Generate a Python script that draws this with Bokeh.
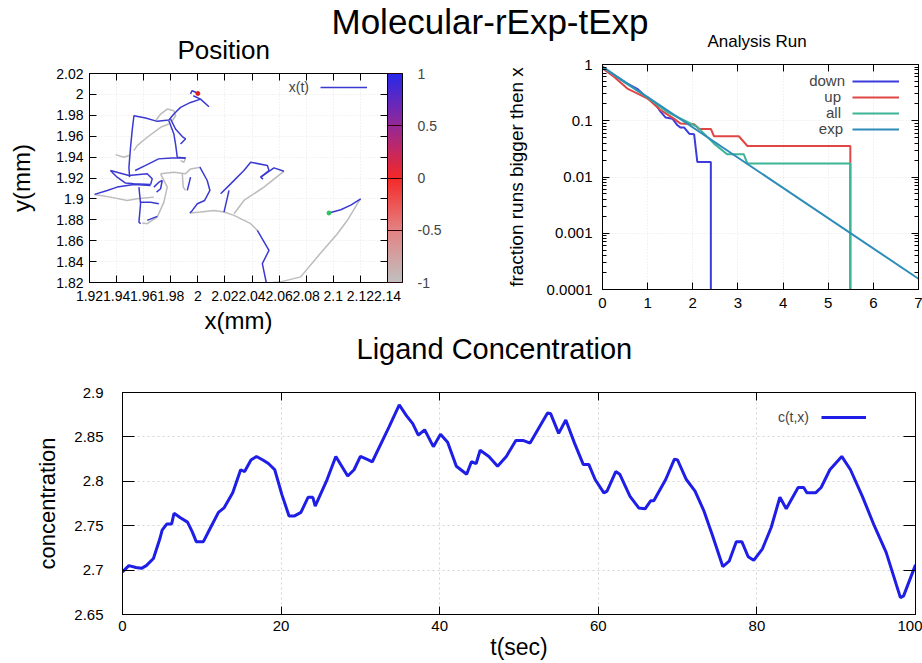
import numpy as np
from bokeh.plotting import figure
from bokeh.layouts import column, row
from bokeh.models import (ColorBar, LinearColorMapper, FixedTicker, CustomJSTickFormatter,
                          LinearAxis, LogAxis, Legend, LegendItem, Range1d)
from bokeh.embed import file_html
from bokeh.resources import INLINE

FONT = "Liberation Sans"

# ------------------------------------------------------------------ data
main_title = "Molecular-rExp-tExp"

# --- Position panel (trajectory pieces, mm)
pos_xticks = [1.92, 1.94, 1.96, 1.98, 2.0, 2.02, 2.04, 2.06, 2.08, 2.1, 2.12, 2.14]
pos_yticks = [1.82, 1.84, 1.86, 1.88, 1.9, 1.92, 1.94, 1.96, 1.98, 2.0, 2.02]
cbar_ticks = [-1, -0.5, 0, 0.5, 1]

traj_blue_x = [
    [1.9946, 1.9956, 1.9976, 2.0000],
    [1.9966, 2.0020, 2.0082],
    [2.0020, 1.9946, 1.9872, 1.9823, 1.9786, 1.9700, 1.9614, 1.9528, 1.9515, 1.9503, 1.9491, 1.9496],
    [1.9799, 1.9835, 1.9885, 1.9909, 1.9872],
    [1.9786, 1.9823, 1.9835, 1.9848, 1.9909],
    [1.9537, 1.9611, 1.9710, 1.9808, 1.9909],
    [1.9355, 1.9491, 1.9626, 1.9663, 1.9651],
    [1.9355, 1.9404, 1.9466, 1.9528, 1.9651],
    [1.9237, 1.9331, 1.9404, 1.9528, 1.9651],
    [1.9565, 1.9577, 1.9565, 1.9577],
    [1.9626, 1.9700],
    [1.9577, 1.9651, 1.9712],
    [1.9675, 1.9712, 1.9737, 1.9725, 1.9695],
    [1.9946, 1.9934, 1.9922],
    [2.0015, 2.0069, 2.0089, 2.0050, 1.9996, 1.9959, 1.9941],
    [2.0168, 2.0242, 2.0340, 2.0390, 2.0513, 2.0525, 2.0464, 2.0481],
    [2.0230, 2.0193],
    [2.0464, 2.0562, 2.0636],
    [2.0439, 2.0525, 2.0476, 2.0505],
    [2.0968, 2.1055, 2.1129, 2.1202],
]
traj_blue_y = [
    [2.0003, 2.0035, 2.0025, 2.0009],
    [1.9987, 1.9955, 1.9882],
    [1.9955, 1.9923, 1.9876, 1.9812, 1.9755, 1.9742, 1.9774, 1.9796, 1.9653, 1.9494, 1.9303, 1.9208],
    [1.9764, 1.9669, 1.9596, 1.9574, 1.9526],
    [1.9748, 1.9621, 1.9526, 1.9399, 1.9392],
    [1.9272, 1.9319, 1.9383, 1.9392, 1.9392],
    [1.9272, 1.9224, 1.9240, 1.9192, 1.9138],
    [1.9272, 1.9208, 1.9151, 1.9144, 1.9138],
    [1.9043, 1.9081, 1.9113, 1.9138, 1.9128],
    [1.9113, 1.8954, 1.8779, 1.8763],
    [1.8795, 1.8833],
    [1.8969, 1.8969, 1.8954],
    [1.9113, 1.9160, 1.9176, 1.9097, 1.9065],
    [1.9208, 1.9144, 1.9081],
    [1.9303, 1.9176, 1.9081, 1.8985, 1.8954, 1.8890, 1.8865],
    [1.9049, 1.9144, 1.9272, 1.9351, 1.9319, 1.9272, 1.9208, 1.9189],
    [1.9081, 1.8874],
    [1.9208, 1.9297, 1.9265],
    [1.8699, 1.8508, 1.8381, 1.8200],
    [1.8865, 1.8896, 1.8941, 1.9001],
]
traj_gray_x = [
    [2.1202, 2.1178, 2.1104, 2.1030, 2.0882, 2.0759, 2.0611, 2.0550],
    [1.9941, 2.0020, 2.0119, 2.0193, 2.0267, 2.0390, 2.0439],
    [2.0636, 2.0488, 2.0340, 2.0267],
    [1.9688, 1.9725, 1.9774, 1.9823, 1.9835, 1.9811],
    [1.9786, 1.9725, 1.9626, 1.9552, 1.9528],
    [1.9237, 1.9355, 1.9478, 1.9552, 1.9675],
    [1.9725, 1.9823, 1.9909, 1.9946, 2.0020],
    [1.9885, 1.9892, 1.9909],
    [1.9589, 1.9626, 1.9700, 1.9749, 1.9774, 1.9725],
    [1.9392, 1.9454, 1.9491],
    [1.9872, 1.9897, 1.9909],
]
traj_gray_y = [
    [1.9001, 1.8954, 1.8795, 1.8667, 1.8445, 1.8254, 1.8206, 1.8200],
    [1.8865, 1.8874, 1.8890, 1.8874, 1.8842, 1.8763, 1.8699],
    [1.9265, 1.9113, 1.8985, 1.8858],
    [1.9748, 1.9812, 1.9860, 1.9844, 1.9796, 1.9748],
    [1.9717, 1.9685, 1.9590, 1.9510, 1.9462],
    [1.9043, 1.9017, 1.8985, 1.9001, 1.9017],
    [1.9240, 1.9256, 1.9240, 1.9287, 1.9303],
    [1.9240, 1.9113, 1.9081],
    [1.8769, 1.8763, 1.8826, 1.8969, 1.9113, 1.9240],
    [1.9424, 1.9399, 1.9415],
    [1.9367, 1.9351, 1.9392],
]
traj_start_x, traj_start_y = [2.0968], [1.8865]
traj_end_x, traj_end_y = [2.0000], [2.0009]

# --- Analysis Run panel
an_xticks = [0, 1, 2, 3, 4, 5, 6, 7]
an_yticks = [0.0001, 0.001, 0.01, 0.1, 1]
an_down_x = [0, 0.25, 0.5, 0.77, 1.0, 1.14, 1.29, 1.40, 1.55, 1.66, 1.73, 1.81, 1.92, 2.03, 2.10, 2.40, 2.40]
an_down_y = [0.92, 0.65, 0.48, 0.37, 0.25, 0.216, 0.144, 0.114, 0.109, 0.083, 0.0755, 0.0755, 0.059, 0.0575, 0.0185, 0.0185, 0.0001]
an_up_x = [0, 0.26, 0.55, 0.70, 1.0, 1.29, 1.58, 1.73, 2.03, 2.14, 2.40, 2.47, 3.02, 3.21, 5.49, 5.49]
an_up_y = [0.85, 0.60, 0.374, 0.326, 0.248, 0.154, 0.109, 0.089, 0.0866, 0.0716, 0.0716, 0.053, 0.053, 0.0356, 0.0356, 0.0001]
an_all_x = [0, 0.3, 0.6, 1.0, 1.43, 1.88, 2.10, 2.47, 2.76, 3.13, 3.21, 5.49, 5.49]
an_all_y = [0.9, 0.62, 0.42, 0.26, 0.144, 0.095, 0.0777, 0.0392, 0.0253, 0.0253, 0.0173, 0.0173, 0.0001]
an_exp_x = [0, 7]
an_exp_y = [0.91, 0.000155]
an_labels = ["down", "up", "all", "exp"]
an_colors = ["#3c3cdc", "#e04646", "#3cb496", "#2e8cb8"]

# --- Ligand concentration panel
conc_xticks = [0, 20, 40, 60, 80, 100]
conc_yticks = [2.65, 2.7, 2.75, 2.8, 2.85, 2.9]
conc_t = [0, 0.8, 1.7, 2.4, 3.0, 3.9, 4.7, 5.0, 5.6, 6.2, 6.5, 7.3, 8.2, 8.8, 9.3, 10.2, 11.0,
          12.1, 12.8, 13.9, 14.9, 15.4, 16.2, 16.9, 17.7, 18.4, 19.2, 20.1, 21.0, 21.7, 22.5,
          23.4, 24.0, 24.3, 25.8, 26.9, 28.4, 29.2, 30.0, 31.0, 31.5, 33.6, 34.9, 35.8, 36.6,
          37.3, 38.1, 39.2, 40.1, 41.0, 42.1, 43.4, 44.0, 44.6, 45.1, 46.2, 47.3, 48.4, 49.6,
          50.5, 51.4, 53.6, 54.0, 55.0, 55.9, 57.0, 58.1, 58.8, 59.6, 60.7, 61.1, 62.2, 62.7,
          64.0, 65.1, 65.9, 66.6, 67.0, 68.5, 69.6, 70.0, 71.1, 72.2, 73.3, 74.4, 75.7, 76.5,
          77.4, 78.1, 78.9, 79.6, 80.7, 81.8, 82.9, 83.7, 85.2, 85.9, 86.3, 87.4, 88.1, 89.2,
          90.7, 91.8, 93.3, 94.8, 96.3, 98.1, 98.5, 100]
conc_c = [2.698, 2.705, 2.703, 2.702, 2.705, 2.713, 2.735, 2.745, 2.752, 2.752, 2.764, 2.759,
          2.754, 2.743, 2.732, 2.732, 2.746, 2.765, 2.770, 2.787, 2.813, 2.811, 2.824, 2.828,
          2.824, 2.820, 2.813, 2.785, 2.761, 2.761, 2.765, 2.782, 2.782, 2.772, 2.802, 2.828,
          2.806, 2.813, 2.828, 2.824, 2.822, 2.861, 2.886, 2.874, 2.865, 2.852, 2.858, 2.839,
          2.853, 2.844, 2.817, 2.808, 2.822, 2.820, 2.835, 2.828, 2.817, 2.828, 2.846, 2.846,
          2.843, 2.877, 2.876, 2.854, 2.869, 2.843, 2.819, 2.819, 2.802, 2.787, 2.789, 2.811,
          2.808, 2.783, 2.770, 2.769, 2.778, 2.778, 2.802, 2.825, 2.824, 2.802, 2.789, 2.767,
          2.739, 2.704, 2.710, 2.732, 2.732, 2.715, 2.711, 2.724, 2.748, 2.782, 2.769, 2.793,
          2.793, 2.787, 2.787, 2.793, 2.813, 2.828, 2.813, 2.783, 2.750, 2.720, 2.669, 2.671,
          2.706]

# ------------------------------------------------------------------ helpers
NUMFMT = "return String(Math.round(tick*1e6)/1e6)"
CHAR_EM = {"d": .556, "o": .556, "w": .722, "n": .556, "u": .556, "p": .556, "a": .556,
           "l": .222, "e": .556, "x": .5, "(": .333, ")": .333, "t": .278, "c": .5, ",": .278}


def text_w(s, fs):
    return sum(CHAR_EM.get(ch, .556) for ch in s) * fs


def numfmt():
    return CustomJSTickFormatter(code=NUMFMT)


def blankfmt():
    return CustomJSTickFormatter(code="return ''")


def style_axis(ax, fs, tick_len=7, minor_len=0):
    ax.major_tick_in = tick_len
    ax.major_tick_out = 0
    ax.minor_tick_in = minor_len
    ax.minor_tick_out = 0
    ax.axis_line_color = "black"
    ax.major_tick_line_color = "black"
    ax.minor_tick_line_color = "black"
    ax.major_label_text_font = FONT
    ax.major_label_text_font_size = fs
    ax.major_label_text_color = "black"
    ax.axis_label_text_font = FONT
    ax.axis_label_text_font_style = "normal"
    ax.axis_label_text_color = "black"


def mirror_axis(cls, ticker, tick_len=7, minor_len=0, standoff=0):
    ax = cls(ticker=ticker, formatter=blankfmt())
    ax.major_tick_in = tick_len
    ax.major_tick_out = 0
    ax.minor_tick_in = minor_len
    ax.minor_tick_out = 0
    ax.axis_line_color = "black"
    ax.major_label_text_font_size = "1px"
    ax.major_label_standoff = standoff
    return ax


def style_title(p, text, size, offset, standoff):
    p.title.text = text
    p.title.text_font = FONT
    p.title.text_font_size = size
    p.title.text_font_style = "normal"
    p.title.text_color = "black"
    p.title.align = "left"
    p.title.offset = offset
    p.title.standoff = standoff


def _legend(items, loc, glyph_w, fs, row_h=16):
    return Legend(items=items, location=loc, glyph_width=glyph_w, glyph_height=row_h,
                  label_height=row_h, label_standoff=0, label_text_font=FONT,
                  label_text_font_size=fs, padding=0, margin=0, spacing=0,
                  border_line_color=None, background_fill_alpha=0)


def key(p, labels, renderers, frame_h, label_right, glyph_x, top, glyph_w, fs, row_h=16):
    """gnuplot-style key: right-aligned label, then line sample (frame-relative px)."""
    n = len(labels)
    for i, (lab, r) in enumerate(zip(labels, renderers)):
        x0 = label_right[i] - text_w(lab, int(fs[:-2]))
        p.add_layout(_legend([LegendItem(label=lab, renderers=[r])],
                             (x0, frame_h - top - (i + 1) * row_h), 0, fs, row_h))
    p.add_layout(_legend([LegendItem(label=" ", renderers=[r]) for r in renderers],
                         (glyph_x, frame_h - top - n * row_h), glyph_w, fs, row_h))


# ------------------------------------------------------------------ title strip
pt = figure(width=922, height=40, min_border=0, toolbar_location=None, output_backend="svg",
            x_range=Range1d(0, 1), y_range=Range1d(0, 1),
            x_axis_location=None, y_axis_location=None)
style_title(pt, main_title, "35px", 209, 0)
pt.grid.visible = False
pt.outline_line_color = None

# ------------------------------------------------------------------ Position
P1_FH = 209
p1 = figure(width=470, height=324, x_range=Range1d(1.92, 2.14), y_range=Range1d(1.82, 2.02),
            toolbar_location=None, output_backend="svg",
            min_border_left=89, min_border_right=83, min_border_top=59, min_border_bottom=56)
p1.border_fill_alpha = 0
style_title(p1, "Position", "26px", 88, 17)
p1.outline_line_color = "black"
p1.xaxis.ticker = FixedTicker(ticks=pos_xticks)
p1.yaxis.ticker = FixedTicker(ticks=pos_yticks)
p1.xaxis.formatter = numfmt()
p1.yaxis.formatter = numfmt()
style_axis(p1.xaxis[0], "14px", 7)
style_axis(p1.yaxis[0], "14px", 7)
p1.xaxis.axis_label = "x(mm)"
p1.yaxis.axis_label = "y(mm)"
p1.xaxis.axis_label_text_font_size = "24px"
p1.yaxis.axis_label_text_font_size = "24px"
p1.xaxis.major_label_standoff = 8
p1.yaxis.major_label_standoff = 6
p1.xaxis.axis_label_standoff = 3
p1.yaxis.axis_label_standoff = 18
p1.grid.grid_line_color = "#e6e6e6"
p1.grid.grid_line_dash = "1 2"
p1.xgrid.ticker = FixedTicker(ticks=pos_xticks)
p1.ygrid.ticker = FixedTicker(ticks=pos_yticks)
p1.add_layout(mirror_axis(LinearAxis, FixedTicker(ticks=pos_xticks)), "above")
p1.add_layout(mirror_axis(LinearAxis, FixedTicker(ticks=pos_yticks), standoff=5), "right")

r_gray = p1.multi_line(traj_gray_x, traj_gray_y, line_color="#bcbcbc", line_width=1.5)
r_blue = p1.multi_line(traj_blue_x, traj_blue_y, line_color="#3a3ad2", line_width=1.5)
p1.scatter(traj_start_x, traj_start_y, size=4, color="#2fc060")
p1.scatter(traj_end_x, traj_end_y, size=4, color="#e02020")

anch_v = [-1, -0.5, 0, 0.5, 1]
anch_c = [(192, 192, 192), (228, 130, 130), (245, 40, 40), (150, 40, 150), (40, 40, 235)]
lv = np.linspace(-1, 1, 256)
cbar_palette = ["#%02x%02x%02x" % tuple(int(round(np.interp(v, anch_v, [c[k] for c in anch_c])))
                                      for k in range(3)) for v in lv]
mapper = LinearColorMapper(palette=cbar_palette, low=-1, high=1)
cb = ColorBar(color_mapper=mapper, ticker=FixedTicker(ticks=cbar_ticks), formatter=numfmt(),
              width=15, height=P1_FH, padding=0, margin=5, bar_line_color="black",
              major_tick_in=15, major_tick_out=0, major_tick_line_color="#300000",
              major_label_text_font=FONT, major_label_text_font_size="14px",
              label_standoff=15, background_fill_alpha=0, border_line_color=None)
p1.add_layout(cb, "right")

key(p1, ["x(t)"], [r_blue], P1_FH, [220], 231, 6, 47, "14px")

# ------------------------------------------------------------------ Analysis Run
P2_FH = 225
p2 = figure(width=452, height=324, x_range=Range1d(0, 7), y_range=Range1d(1e-4, 1),
            y_axis_type="log", toolbar_location=None, output_backend="svg",
            min_border_left=132, min_border_right=4, min_border_top=50, min_border_bottom=49)
p2.border_fill_alpha = 0
style_title(p2, "Analysis Run", "17px", 105, 28)
p2.outline_line_color = "black"
minor_log = [k * 10.0 ** e for e in range(-4, 0) for k in range(2, 10)]
p2.xaxis.ticker = FixedTicker(ticks=an_xticks)
p2.yaxis.ticker = FixedTicker(ticks=an_yticks, minor_ticks=minor_log)
p2.xaxis.formatter = numfmt()
p2.yaxis.formatter = numfmt()
style_axis(p2.xaxis[0], "15px", 7)
style_axis(p2.yaxis[0], "15px", 7, 4)
p2.yaxis.axis_label = "fraction runs bigger then x"
p2.yaxis.axis_label_text_font_size = "19px"
p2.xaxis.major_label_standoff = 8
p2.yaxis.major_label_standoff = 10
p2.yaxis.axis_label_standoff = 17
p2.grid.grid_line_color = "#e6e6e6"
p2.grid.grid_line_dash = "1 2"
p2.xgrid.ticker = FixedTicker(ticks=an_xticks)
p2.ygrid.ticker = FixedTicker(ticks=an_yticks)
p2.add_layout(mirror_axis(LinearAxis, FixedTicker(ticks=an_xticks)), "above")
p2.add_layout(mirror_axis(LogAxis, FixedTicker(ticks=an_yticks, minor_ticks=minor_log), 7, 4), "right")

an_rs = []
for xs, ys, col in zip([an_down_x, an_up_x, an_all_x, an_exp_x],
                       [an_down_y, an_up_y, an_all_y, an_exp_y], an_colors):
    an_rs.append(p2.line(xs, ys, line_color=col, line_width=2))
key(p2, an_labels, an_rs, P2_FH, [243, 239, 239, 241], 250, 9, 47, "15px")

# ------------------------------------------------------------------ Ligand Concentration
P3_FH = 222
p3 = figure(width=922, height=363, x_range=Range1d(0, 100), y_range=Range1d(2.65, 2.9),
            toolbar_location=None, output_backend="svg",
            min_border_left=122, min_border_right=7, min_border_top=92, min_border_bottom=49,
            margin=(-38, 0, 0, 0))
p3.border_fill_alpha = 0
style_title(p3, "Ligand Concentration", "29px", 234, 56)
p3.outline_line_color = "black"
p3.xaxis.ticker = FixedTicker(ticks=conc_xticks)
p3.yaxis.ticker = FixedTicker(ticks=conc_yticks)
p3.xaxis.formatter = numfmt()
p3.yaxis.formatter = numfmt()
style_axis(p3.xaxis[0], "15px", 8)
style_axis(p3.yaxis[0], "15px", 12)
p3.xaxis.axis_label = "t(sec)"
p3.yaxis.axis_label = "concentration"
p3.xaxis.axis_label_text_font_size = "23px"
p3.yaxis.axis_label_text_font_size = "22px"
p3.xaxis.major_label_standoff = 6
p3.yaxis.major_label_standoff = 19
p3.xaxis.axis_label_standoff = 0
p3.yaxis.axis_label_standoff = 11
p3.grid.grid_line_color = "#d4d4d4"
p3.grid.grid_line_dash = "2 3"
p3.xgrid.ticker = FixedTicker(ticks=conc_xticks)
p3.ygrid.ticker = FixedTicker(ticks=conc_yticks)
p3.add_layout(mirror_axis(LinearAxis, FixedTicker(ticks=conc_xticks), 8), "above")
p3.add_layout(mirror_axis(LinearAxis, FixedTicker(ticks=conc_yticks), 12), "right")

r_c = p3.line(conc_t, conc_c, line_color="#1e1ee6", line_width=3)
key(p3, ["c(t,x)"], [r_c], P3_FH, [687], 699, 17, 45, "14px")

top_row = row(column(p1), column(p2), margin=(-26, 0, 0, 0))
layout = column(pt, top_row, p3)
open("out.html", "w").write(file_html(layout, INLINE, title="Molecular-rExp-tExp"))
